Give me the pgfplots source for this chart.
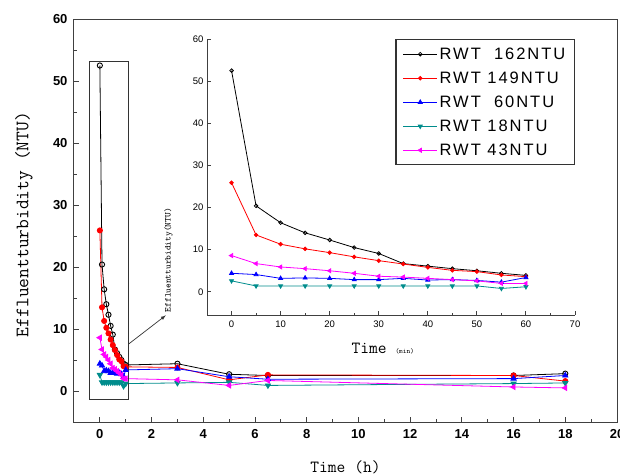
\documentclass[border=0pt]{standalone}
\usepackage{fontspec}
\setmainfont{Liberation Sans}
\usepackage{pgfplots}
\pgfplotsset{compat=1.18}
\usepackage{pgfplotstable}
\definecolor{cteal}{RGB}{0,140,140}
\definecolor{cmag}{RGB}{255,0,255}
\definecolor{cred}{RGB}{255,0,0}
\definecolor{cblue}{RGB}{0,0,255}

\pgfplotstableread{
t b r bl te m
0 52.5 25.9 4.4 2.6 8.6
5 20.4 13.5 4.1 1.4 6.7
10 16.4 11.3 3.2 1.4 5.9
15 14.0 10.2 3.3 1.4 5.5
20 12.3 9.3 3.2 1.4 5.0
25 10.5 8.3 2.9 1.4 4.4
30 9.1 7.4 2.9 1.4 3.7
35 6.7 6.6 3.2 1.4 3.5
40 6.1 5.8 2.8 1.4 3.2
45 5.5 5.1 2.9 1.4 2.9
50 5.0 4.8 2.7 1.4 2.6
55 4.4 4.0 2.3 0.8 2.0
60 3.9 3.6 3.4 1.2 2.0
}\inset

\pgfplotstableread{
t b r bl te m
0 52.5 25.9 4.4 2.6 8.6
0.0833 20.4 13.5 4.1 1.4 6.7
0.1667 16.4 11.3 3.2 1.4 5.9
0.25 14.0 10.2 3.3 1.4 5.5
0.3333 12.3 9.3 3.2 1.4 5.0
0.4167 10.5 8.3 2.9 1.4 4.4
0.5 9.1 7.4 2.9 1.4 3.7
0.5833 6.7 6.6 3.2 1.4 3.5
0.6667 6.1 5.8 2.8 1.4 3.2
0.75 5.5 5.1 2.9 1.4 2.9
0.8333 5.0 4.8 2.7 1.4 2.6
0.9167 4.4 4.0 2.3 0.8 2.0
1 4.2 3.9 3.4 1.2 2.0
3 4.4 3.8 3.6 1.3 1.8
5 2.7 1.8 2.3 1.4 0.9
6.5 2.5 2.6 1.9 0.9 1.7
16 2.5 2.5 2.0 1.2 0.65
18 2.8 1.6 2.5 1.3 0.5
}\maindata

\begin{document}
\begin{tikzpicture}
\useasboundingbox (-74pt,-53pt) rectangle (546pt,422pt);
\begin{axis}[
  at={(0pt,0pt)}, anchor=south west,
  scale only axis, width=543pt, height=403pt,
  xmin=-1, xmax=20, ymin=-5, ymax=60,
  xtick={0,2,...,20}, ytick={0,10,...,60},
  minor x tick num=1, minor y tick num=1,
  tick align=inside, tick pos=left,
  major tick length=5pt, minor tick length=3pt,
  axis line style={line width=1pt, black!75},
  every tick/.style={line width=1pt, black!75},
  /pgf/number format/assume math mode=true,
  ticklabel style={font=\fontsize{13}{15}\selectfont\bfseries},
  xticklabel style={yshift=-4pt},
  yticklabel style={xshift=-3pt},
  xlabel={Time (h)},
  ylabel={Effluentturbidity (NTU)},
  xlabel style={font=\ttfamily\fontsize{17}{19}\selectfont, at={(axis description cs:0.5,-0.112)}, anchor=center},
  ylabel style={font=\ttfamily\addfontfeature{LetterSpace=7}\fontsize{19}{21}\selectfont, at={(axis description cs:-0.092,0.49)}, anchor=center},
  clip=false,
]
\addplot[black, line width=0.8pt, mark=o, mark size=2.6pt, mark options={line width=0.9pt}] table[x=t,y=b]{\maindata};
\addplot[cred, line width=0.8pt, mark=*, mark size=2.6pt] table[x=t,y=r]{\maindata};
\addplot[cblue, line width=0.8pt, mark=triangle*, mark size=3pt] table[x=t,y=bl]{\maindata};
\addplot[cteal, line width=0.8pt, mark=triangle*, mark size=3pt, mark options={rotate=180}] table[x=t,y=te]{\maindata};
\addplot[cmag, line width=0.8pt, mark=triangle*, mark size=3pt, mark options={rotate=90}] table[x=t,y=m]{\maindata};
\draw[line width=0.9pt, black!80] (axis cs:-0.39,-1.4) rectangle (axis cs:1.12,53.2);
\draw[line width=0.7pt, black!80, -latex] (axis cs:1.12,7.6) -- (axis cs:2.55,12.2);
\node[rotate=90, font=\ttfamily\fontsize{9}{10}\selectfont] at (axis cs:2.66,21.1) {Effluentturbidity(NTU)};
\end{axis}

\begin{axis}[
  at={(133pt,107pt)}, anchor=south west,
  scale only axis, width=368pt, height=276pt,
  xmin=-5, xmax=70, ymin=-5.5, ymax=60,
  axis x line*=bottom, axis y line*=left,
  xtick={0,10,...,70}, ytick={0,10,...,60},
  minor x tick num=1,
  tick align=inside,
  major tick length=4pt, minor tick length=2.5pt,
  axis line style={line width=1pt, black!75, -},
  every tick/.style={line width=0.9pt, black!75},
  /pgf/number format/assume math mode=true,
  ticklabel style={font=\fontsize{9.5}{10}\selectfont},
  xticklabel style={yshift=-2pt},
  xlabel={\fontsize{17}{19}\selectfont Time \fontsize{7}{8}\selectfont(min)},
  xlabel style={font=\ttfamily, at={(axis description cs:0.478,-0.12)}, anchor=center},
  legend style={at={(1,1)}, anchor=north east, draw=black!80, line width=1.3pt,
    font=\addfontfeature{LetterSpace=12}\fontsize{16.5}{18}\selectfont,
    inner xsep=7pt, inner ysep=6pt, row sep=7pt},
  legend cell align=left,
  legend image code/.code={\draw[mark repeat=2,mark phase=2] plot coordinates {(0pt,0pt) (17pt,0pt) (34pt,0pt)};},
]
\addplot[black, line width=0.8pt, mark=o, mark size=1.8pt] table[x=t,y=b]{\inset};
\addlegendentry{RWT\ \ 162NTU}
\addplot[cred, line width=0.8pt, mark=*, mark size=1.8pt] table[x=t,y=r]{\inset};
\addlegendentry{RWT 149NTU}
\addplot[cblue, line width=0.8pt, mark=triangle*, mark size=2.3pt] table[x=t,y=bl]{\inset};
\addlegendentry{RWT\ \ 60NTU}
\addplot[cteal, line width=0.8pt, mark=triangle*, mark size=2.3pt, mark options={rotate=180}] table[x=t,y=te]{\inset};
\addlegendentry{RWT 18NTU}
\addplot[cmag, line width=0.8pt, mark=triangle*, mark size=2.3pt, mark options={rotate=90}] table[x=t,y=m]{\inset};
\addlegendentry{RWT 43NTU}
\end{axis}
\end{tikzpicture}
\end{document}
